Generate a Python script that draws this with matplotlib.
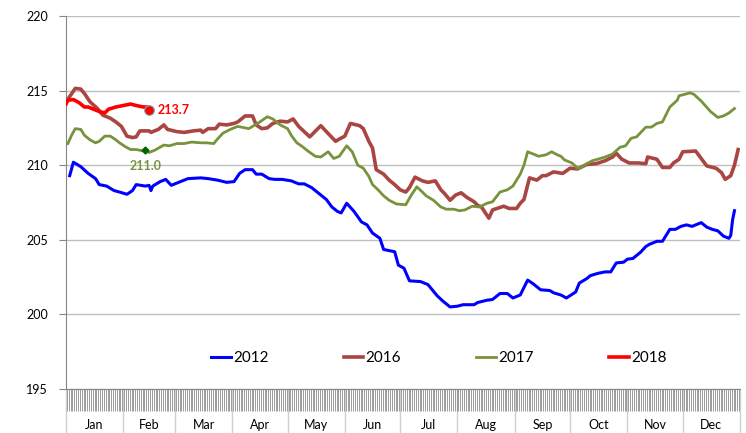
import matplotlib
matplotlib.use("Agg")
import matplotlib.pyplot as plt
import matplotlib.transforms as mtransforms
import numpy as np

plt.rcParams['font.family'] = ['Lato', 'DejaVu Sans']

# day of year (0 = 1 Jan) and value
days_2012 = [2, 4, 8, 12, 16, 18, 22, 26, 29, 33, 36, 38, 43, 45, 46, 47, 51, 54, 57, 62,
             66, 73, 77, 82, 87, 91, 94, 97, 101, 103, 106, 110, 113, 117, 122, 126, 129, 133,
             138, 141, 144, 147, 149, 152, 156, 160, 163, 166, 170, 172, 176, 178, 180, 183,
             186, 192, 196, 201, 204, 208, 212, 215, 221, 223, 228, 231, 235, 239, 242, 246,
             250, 253, 257, 262, 264, 268, 271, 276, 278, 282, 284, 288, 292, 295, 298, 302,
             304, 307, 311, 314, 316, 320, 323, 327, 330, 333, 336, 339, 342, 344, 347, 350,
             353, 356, 359, 360, 361, 362]
vals_2012 = [209.3, 210.2, 209.9, 209.45, 209.1, 208.7, 208.6, 208.3, 208.2, 208.05, 208.3,
             208.7, 208.6, 208.65, 208.3, 208.6, 208.9, 209.05, 208.65, 208.9, 209.1, 209.15,
             209.1, 209.0, 208.85, 208.9, 209.45, 209.7, 209.7, 209.4, 209.4, 209.1, 209.05,
             209.05, 208.95, 208.75, 208.75, 208.5, 208.0, 207.7, 207.2, 206.9, 206.8, 207.45,
             206.9, 206.2, 206.0, 205.45, 205.1, 204.35, 204.25, 204.2, 203.3, 203.1, 202.25,
             202.2, 202.0, 201.25, 200.9, 200.5, 200.55, 200.65, 200.65, 200.8, 200.95, 201.0,
             201.4, 201.4, 201.1, 201.3, 202.3, 202.05, 201.65, 201.6, 201.45, 201.3, 201.1,
             201.5, 202.1, 202.4, 202.6, 202.75, 202.85, 202.85, 203.45, 203.5, 203.7, 203.75,
             204.15, 204.55, 204.7, 204.9, 204.9, 205.7, 205.7, 205.9, 206.0, 205.9, 206.05,
             206.15, 205.85, 205.7, 205.6, 205.25, 205.1, 205.3, 206.35, 206.95]

days_2016 = [0, 2, 5, 8, 10, 13, 17, 20, 24, 27, 30, 33, 36, 38, 40, 45, 46, 50, 53, 55, 60,
             64, 69, 73, 74, 77, 81, 83, 87, 91, 93, 97, 101, 103, 106, 109, 112, 116, 120,
             123, 126, 129, 132, 138, 141, 146, 148, 151, 154, 159, 161, 164, 166, 168, 172,
             175, 178, 181, 184, 186, 189, 193, 196, 200, 203, 205, 208, 211, 214, 217, 221,
             223, 225, 229, 231, 237, 240, 244, 246, 248, 251, 255, 258, 260, 264, 269, 273,
             277, 282, 287, 292, 296, 298, 301, 305, 310, 314, 315, 320, 323, 327, 329, 332,
             334, 341, 344, 347, 352, 355, 357, 360, 362, 364]
vals_2016 = [214.25, 214.6, 215.15, 215.1, 214.8, 214.25, 213.8, 213.35, 213.15, 212.9, 212.6,
             211.95, 211.85, 211.9, 212.3, 212.3, 212.2, 212.4, 212.7, 212.4, 212.25, 212.2,
             212.3, 212.35, 212.2, 212.45, 212.45, 212.75, 212.7, 212.8, 212.9, 213.3, 213.3,
             212.7, 212.45, 212.5, 212.8, 212.95, 212.9, 213.1, 212.6, 212.25, 211.9, 212.65,
             212.25, 211.6, 211.75, 211.95, 212.8, 212.65, 212.45, 211.6, 211.15, 209.7, 209.4,
             209.0, 208.7, 208.35, 208.2, 208.5, 209.2, 208.95, 208.85, 208.95, 208.35, 208.1,
             207.65, 208.0, 208.15, 207.85, 207.55, 207.3, 207.2, 206.45, 207.0, 207.25, 207.1,
             207.1, 207.45, 207.7, 209.15, 209.0, 209.3, 209.3, 209.55, 209.45, 209.8, 209.75,
             210.05, 210.1, 210.3, 210.55, 210.8, 210.4, 210.15, 210.15, 210.1, 210.55, 210.4,
             209.85, 209.85, 210.15, 210.4, 210.9, 210.95, 210.45, 209.95, 209.8, 209.5, 209.05,
             209.3, 210.0, 211.05]

days_2017 = [1, 3, 5, 8, 10, 13, 16, 18, 21, 24, 27, 29, 32, 35, 38, 42, 43, 45, 48, 53, 56,
             60, 64, 68, 73, 76, 80, 82, 85, 89, 93, 99, 101, 105, 109, 112, 116, 120, 122, 125,
             128, 131, 135, 138, 142, 145, 148, 152, 155, 158, 161, 164, 166, 169, 172, 175,
             179, 184, 187, 190, 193, 195, 199, 203, 206, 210, 213, 216, 220, 224, 228, 231,
             235, 239, 242, 246, 248, 250, 253, 256, 260, 263, 266, 268, 270, 274, 277, 279,
             282, 285, 288, 292, 296, 300, 303, 306, 309, 314, 317, 320, 323, 327, 331, 332,
             338, 340, 344, 349, 353, 356, 359, 362]
vals_2017 = [211.45, 212.0, 212.45, 212.4, 212.0, 211.7, 211.5, 211.6, 211.95, 211.95, 211.7,
             211.5, 211.25, 211.05, 211.05, 210.95, 211.0, 210.85, 211.0, 211.35, 211.3, 211.45,
             211.45, 211.55, 211.5, 211.5, 211.45, 211.75, 212.15, 212.4, 212.6, 212.45, 212.6,
             212.9, 213.25, 213.1, 212.7, 212.45, 212.0, 211.5, 211.25, 210.95, 210.6, 210.55,
             210.9, 210.45, 210.6, 211.3, 210.9, 210.0, 209.8, 209.25, 208.7, 208.35, 207.95,
             207.65, 207.4, 207.35, 208.0, 208.55, 208.2, 207.95, 207.65, 207.2, 207.05, 207.05,
             206.95, 207.0, 207.25, 207.2, 207.45, 207.55, 208.2, 208.35, 208.6, 209.4, 210.0,
             210.9, 210.75, 210.6, 210.7, 210.9, 210.7, 210.6, 210.35, 210.15, 209.8, 209.85,
             210.1, 210.3, 210.4, 210.55, 210.75, 211.2, 211.3, 211.8, 211.9, 212.55, 212.55,
             212.8, 212.9, 213.9, 214.35, 214.65, 214.85, 214.75, 214.3, 213.6, 213.2, 213.3,
             213.5, 213.8]

days_2018 = [0, 1, 4, 7, 8, 10, 12, 15, 18, 21, 23, 27, 31, 35, 38, 42, 44]
vals_2018 = [214.1, 214.35, 214.4, 214.2, 214.1, 213.9, 213.9, 213.75, 213.6, 213.5, 213.75,
             213.9, 214.0, 214.1, 214.0, 213.9, 213.9]

last_2018_day, last_2018 = 45, 213.7
low_2017_day, low_2017 = 43, 211.0

months = ['Jan', 'Feb', 'Mar', 'Apr', 'May', 'Jun', 'Jul', 'Aug', 'Sep', 'Oct', 'Nov', 'Dec']
month_days = [31, 28, 31, 30, 31, 30, 31, 31, 30, 31, 30, 31]

fig = plt.figure(figsize=(7.46, 4.33), dpi=100)
ax = fig.add_axes([66 / 746, 44 / 433, 674 / 746, 373 / 433])

ax.plot(days_2012, vals_2012, color='#0000FF', lw=2.2, label='2012', zorder=3)
ax.plot(days_2016, vals_2016, color='#A94643', lw=2.6, label='2016', zorder=3)
ax.plot(days_2017, vals_2017, color='#77933C', lw=2.0, label='2017', zorder=3)
ax.plot(days_2018, vals_2018, color='#FF0000', lw=2.6, label='2018', zorder=4)

ax.plot([low_2017_day], [low_2017], marker='D', ms=3.5, color='#006400', zorder=5)
ax.plot([last_2018_day], [last_2018], marker='o', ms=7, mfc='#FF0000', mec='#7FA7C9',
        mew=0.8, zorder=5)
ax.annotate(f'{last_2018:.1f}', (last_2018_day, last_2018), xytext=(6, 0),
            textcoords='offset points', color='#FF0000', fontsize=9, fontweight='bold',
            va='center', ha='left')
ax.annotate(f'{low_2017:.1f}', (low_2017_day, low_2017), xytext=(0, -11),
            textcoords='offset points', color='#77933C', fontsize=9, fontweight='bold',
            va='center', ha='center')

ax.set_xlim(0, 365)
ax.set_ylim(195, 220)
ax.set_yticks(np.arange(195, 221, 5))
ax.yaxis.grid(True, color='#C0C0C0', lw=1)
ax.set_axisbelow(True)
ax.tick_params(axis='y', length=5, color='#868686', labelsize=9, pad=8)

for s in ['top', 'right']:
    ax.spines[s].set_visible(False)
ax.spines['left'].set_color('#868686')
ax.spines['bottom'].set_color('#868686')

# day ticks and month separators
bounds = np.concatenate([[0], np.cumsum(month_days)])
ax.set_xticks(bounds)
ax.set_xticklabels([])
ax.set_xticks(np.arange(0.5, 365, 1), minor=True)
ax.tick_params(axis='x', which='major', length=32, width=1, color='#D0D0D0')
ax.tick_params(axis='x', which='minor', length=16, width=0.6, color='#8C8C8C')

trans = mtransforms.blended_transform_factory(ax.transData, ax.transAxes)
centers = (bounds[:-1] + bounds[1:]) / 2
for c, m in zip(centers, months):
    ax.text(c, -0.097, m, transform=trans, ha='center', va='center', fontsize=9)

ax.legend(loc='center', bbox_to_anchor=(0.553, 0.083), ncol=4, frameon=False,
          fontsize=11, handlelength=1.3, handletextpad=0.15, columnspacing=4.9)

fig.savefig('out.png', dpi=100)
